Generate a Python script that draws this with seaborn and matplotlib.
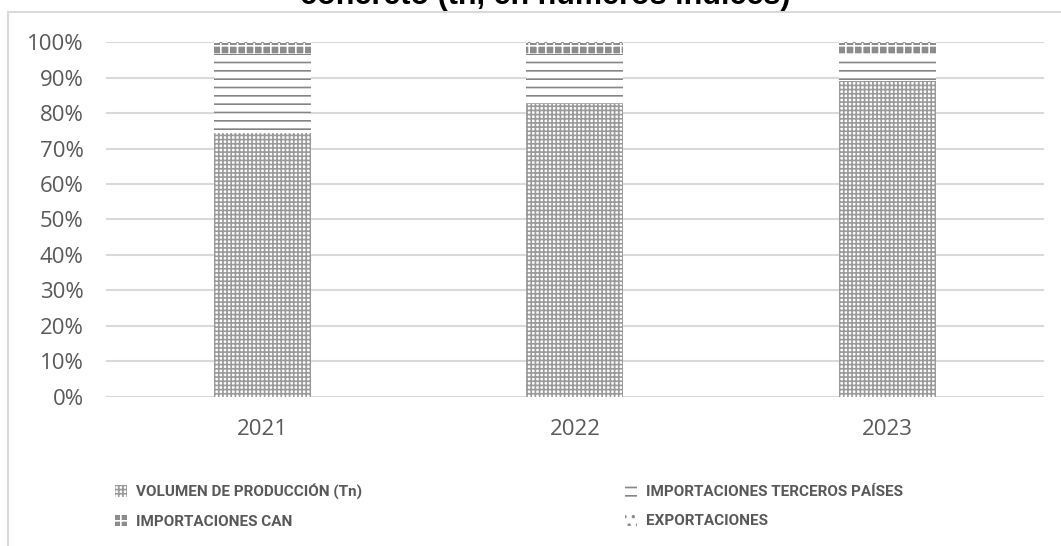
import numpy as np
import pandas as pd
import seaborn as sns
import matplotlib.pyplot as plt
from matplotlib.lines import Line2D
from matplotlib.ticker import PercentFormatter

# shares of apparent consumption (fraction of 100%)
years = ['2021', '2022', '2023']
produccion = [0.745, 0.825, 0.890]
imp_terceros = [0.222, 0.140, 0.073]
imp_can = [0.031, 0.033, 0.035]
exportaciones = [0.002, 0.002, 0.002]

series_names = ['VOLUMEN DE PRODUCCIÓN (Tn)', 'IMPORTACIONES TERCEROS PAÍSES',
                'IMPORTACIONES CAN', 'EXPORTACIONES']

sns.set_theme(style='white')
plt.rcParams['font.family'] = ['Open Sans', 'DejaVu Sans']
plt.rcParams['hatch.linewidth'] = 1.2

df = pd.DataFrame({'year': years, 'prod': produccion, 'terc': imp_terceros,
                   'can': imp_can, 'exp': exportaciones})
df['c_prod'] = df['prod']
df['c_terc'] = df['c_prod'] + df['terc']
df['c_can'] = df['c_terc'] + df['can']
df['c_exp'] = df['c_can'] + df['exp']

# (column, legend name, face, hatch colour, hatch)
styles = [
    ('c_prod', series_names[0], 'white', '#9a9a9a', '++++'),
    ('c_terc', series_names[1], 'white', '#858585', '--'),
    ('c_can', series_names[2], '#8c8c8c', 'white', '++'),
    ('c_exp', series_names[3], 'white', '#8a8a8a', '..'),
]

fig = plt.figure(figsize=(10.61, 5.46), dpi=100)
ax = fig.add_axes([0.0999, 0.273, 0.884, 0.650])

# draw cumulative layers from top down, each filled so lower ones cover
handles = {}
for col, name, face, hcol, hatch in styles[::-1]:
    sns.barplot(data=df, x='year', y=col, ax=ax, color=face, width=0.31,
                edgecolor=hcol, linewidth=0, hatch=hatch,
                errorbar=None, zorder=3)
    handles[name] = plt.Rectangle((0, 0), 1, 1, facecolor=face,
                                  edgecolor=hcol, linewidth=0, hatch=hatch)

ax.set_ylim(0, 1.0)
ax.set_xlim(-0.5, 2.5)
ax.set_yticks(np.arange(0, 1.01, 0.1))
ax.yaxis.set_major_formatter(PercentFormatter(1.0, decimals=0))
ax.yaxis.grid(True, color='#d9d9d9', linewidth=1.5, zorder=0)
ax.set_axisbelow(True)
for s in ax.spines.values():
    s.set_visible(False)
ax.set_xlabel('')
ax.set_ylabel('')
ax.tick_params(axis='both', length=0, colors='#595959', labelsize=16)
ax.tick_params(axis='y', pad=16)
ax.tick_params(axis='x', pad=16)

# chart-area border (cropped)
fig.add_artist(Line2D([8 / 1061, 1.0], [1 - 12 / 546, 1 - 12 / 546],
                      transform=fig.transFigure, color='#d9d9d9', linewidth=1.5))
fig.add_artist(Line2D([8 / 1061, 8 / 1061], [0, 1 - 12 / 546],
                      transform=fig.transFigure, color='#d9d9d9', linewidth=1.5))

fig.text(0.514, 1 - 4 / 546, 'concreto (tn, en números índices)',
         ha='center', va='baseline', fontsize=22, fontweight='bold',
         family=['Liberation Sans', 'DejaVu Sans'], color='black')

# legend filled column by column: col 1 = produccion, CAN; col 2 = terceros, exportaciones
order = [series_names[0], series_names[2], series_names[1], series_names[3]]
leg = fig.legend([handles[n] for n in order], order,
                 loc='upper left', bbox_to_anchor=(0.095, 0.14), ncol=2,
                 frameon=False, handlelength=0.8, handleheight=0.8,
                 handletextpad=0.6, columnspacing=17.2, labelspacing=1.0,
                 prop={'family': ['Roboto', 'DejaVu Sans'], 'weight': 'bold',
                       'size': 11})
for t in leg.get_texts():
    t.set_color('#595959')

fig.savefig('out.png', dpi=100)
